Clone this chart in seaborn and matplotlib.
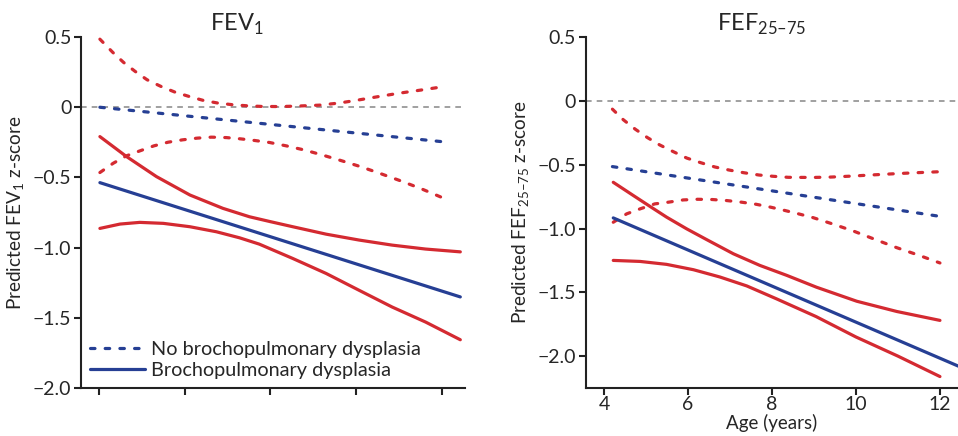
import matplotlib
matplotlib.use("Agg")
import matplotlib.pyplot as plt
from matplotlib.lines import Line2D
import seaborn as sns

# colours
RED = "#d42a31"
BLUE = "#263f94"

# ---- FEV1 panel ----
fev_no_mean_x = [4.02, 12.0]
fev_no_mean_y = [0.0, -0.245]
fev_no_hi_x = [4.02, 4.32, 4.57, 4.84, 5.12, 5.44, 5.77, 6.10, 6.43, 6.77, 7.12, 7.43, 7.78,
               8.2, 8.6, 9.14, 9.6, 10.02, 10.5, 11.0, 11.5, 12.0]
fev_no_hi_y = [0.485, 0.391, 0.32, 0.256, 0.196, 0.149, 0.108, 0.077, 0.049, 0.03, 0.018, 0.011, 0.006,
               0.005, 0.008, 0.015, 0.03, 0.05, 0.075, 0.10, 0.122, 0.145]
fev_no_lo_x = [4.02, 4.33, 4.64, 4.95, 5.28, 5.61, 5.95, 6.29, 6.62, 6.97, 7.30, 7.64, 7.98,
               8.37, 8.8, 9.21, 9.65, 10.07, 10.5, 11.0, 11.5, 11.98]
fev_no_lo_y = [-0.465, -0.399, -0.346, -0.311, -0.275, -0.249, -0.232, -0.22, -0.213, -0.216, -0.225, -0.237, -0.251,
               -0.275, -0.305, -0.34, -0.38, -0.42, -0.465, -0.52, -0.578, -0.64]

fev_bpd_mean_x = [4.02, 12.43]
fev_bpd_mean_y = [-0.537, -1.351]
fev_bpd_hi_x = [4.02, 4.64, 5.34, 6.12, 6.89, 7.51, 8.0, 8.52, 9.30, 10.07, 10.84, 11.62, 12.43]
fev_bpd_hi_y = [-0.209, -0.351, -0.494, -0.625, -0.72, -0.78, -0.815, -0.851, -0.904, -0.946, -0.982, -1.01, -1.03]
fev_bpd_lo_x = [4.02, 4.49, 4.95, 5.50, 6.12, 6.74, 7.28, 7.74, 8.52, 9.30, 10.07, 10.84, 11.62, 12.43]
fev_bpd_lo_y = [-0.863, -0.832, -0.82, -0.827, -0.851, -0.887, -0.93, -0.975, -1.077, -1.184, -1.304, -1.423, -1.53, -1.656]

# ---- FEF25-75 panel ----
fef_no_mean_x = [4.2, 12.0]
fef_no_mean_y = [-0.515, -0.905]
fef_no_hi_x = [4.20, 4.46, 4.74, 5.03, 5.33, 5.65, 5.97, 6.30, 6.64, 6.98, 7.33, 7.69, 8.03, 8.39,
               8.98, 9.4, 9.86, 10.4, 10.97, 11.5, 12.0]
fef_no_hi_y = [-0.065, -0.148, -0.221, -0.287, -0.346, -0.398, -0.448, -0.484, -0.518, -0.542, -0.563, -0.581, -0.591, -0.599,
               -0.60, -0.597, -0.59, -0.58, -0.57, -0.562, -0.555]
fef_no_lo_x = [4.22, 4.54, 4.86, 5.21, 5.53, 5.89, 6.23, 6.58, 6.92, 7.28, 7.62, 7.97, 8.31, 8.63,
               8.98, 9.45, 9.94, 10.45, 10.97, 11.5, 12.0]
fef_no_lo_y = [-0.951, -0.885, -0.846, -0.807, -0.794, -0.776, -0.771, -0.773, -0.781, -0.794, -0.81, -0.833, -0.859, -0.885,
               -0.915, -0.965, -1.02, -1.085, -1.15, -1.21, -1.27]

fef_bpd_mean_x = [4.22, 12.45]
fef_bpd_mean_y = [-0.917, -2.08]
fef_bpd_hi_x = [4.22, 4.70, 5.10, 5.49, 5.97, 6.45, 7.08, 7.71, 8.35, 9.06, 10.02, 10.97, 12.0]
fef_bpd_hi_y = [-0.638, -0.742, -0.828, -0.911, -1.003, -1.088, -1.198, -1.289, -1.367, -1.46, -1.57, -1.65, -1.72]
fef_bpd_lo_x = [4.22, 4.86, 5.49, 6.13, 6.76, 7.4, 8.1, 9.05, 10.0, 11.0, 12.0]
fef_bpd_lo_y = [-1.25, -1.258, -1.281, -1.323, -1.38, -1.45, -1.55, -1.69, -1.85, -2.0, -2.16]

age_ticks = [4, 6, 8, 10, 12]
z_ticks = [0.5, 0, -0.5, -1.0, -1.5, -2.0]
legend_labels = ["No brochopulmonary dysplasia", "Brochopulmonary dysplasia"]

sns.set_style("ticks")
plt.rcParams["font.family"] = ["Lato", "DejaVu Sans"]
plt.rcParams["mathtext.fontset"] = "custom"
plt.rcParams["mathtext.rm"] = "Lato"
plt.rcParams["axes.edgecolor"] = "#222222"
plt.rcParams["axes.linewidth"] = 1.5

fig = plt.figure(figsize=(9.58, 4.36), dpi=100)
ax1 = fig.add_axes([0.0846, 0.110, 0.4008, 0.805])
ax2 = fig.add_axes([0.6114, 0.110, 0.3886, 0.805])

dash_kw = dict(linestyle=(0, (1.4, 3.2)), dash_capstyle="round")


def draw(ax, curves):
    ax.axhline(0, color="#a0a0a0", lw=1.4, linestyle=(0, (2.9, 2.6)), zorder=1)
    for x, y, color, dashed in curves:
        kw = dash_kw if dashed else dict(solid_capstyle="round", solid_joinstyle="round")
        sns.lineplot(x=x, y=y, ax=ax, color=color, lw=2.3, errorbar=None, **kw)


def fmt(v):
    if v == 0:
        return "0"
    return f"{v:.1f}".replace("-", "\u2212")


draw(ax1, [
    (fev_no_hi_x, fev_no_hi_y, RED, True),
    (fev_no_lo_x, fev_no_lo_y, RED, True),
    (fev_no_mean_x, fev_no_mean_y, BLUE, True),
    (fev_bpd_hi_x, fev_bpd_hi_y, RED, False),
    (fev_bpd_lo_x, fev_bpd_lo_y, RED, False),
    (fev_bpd_mean_x, fev_bpd_mean_y, BLUE, False),
])
draw(ax2, [
    (fef_no_hi_x, fef_no_hi_y, RED, True),
    (fef_no_lo_x, fef_no_lo_y, RED, True),
    (fef_no_mean_x, fef_no_mean_y, BLUE, True),
    (fef_bpd_hi_x, fef_bpd_hi_y, RED, False),
    (fef_bpd_lo_x, fef_bpd_lo_y, RED, False),
    (fef_bpd_mean_x, fef_bpd_mean_y, BLUE, False),
])

ax1.set_xlim(3.58, 12.54)
ax1.set_ylim(-2.0, 0.5)
ax2.set_xlim(3.564, 12.43)
ax2.set_ylim(-2.25, 0.5)

for ax in (ax1, ax2):
    sns.despine(ax=ax)
    ax.set_xticks(age_ticks)
    ax.set_yticks(z_ticks)
    ax.set_yticklabels([fmt(v) for v in z_ticks])
    ax.tick_params(labelsize=14, length=5, width=1.5, color="#222222", pad=2)

ax1.tick_params(axis="x", labelbottom=False)
ax1.set_xlabel("")
ax2.tick_params(axis="x", pad=1)
ax2.set_xticklabels([str(t) for t in age_ticks])
ax2.set_xlabel("Age (years)", fontsize=13.5, labelpad=0.5)

ax1.set_ylabel("Predicted FEV$_\\mathregular{1}$ z-score", fontsize=13.7, labelpad=4)
ax2.set_ylabel("Predicted FEF$_\\mathregular{25\u201375}$ z-score", fontsize=13.7, labelpad=4)

ax1.set_title("FEV$_\\mathregular{1}$", fontsize=17, x=0.406, pad=4)
ax2.set_title("FEF$_\\mathregular{25\u201375}$", fontsize=17, x=0.474, pad=4)

# legend
handles = [
    Line2D([], [], color=BLUE, lw=2.3, **dash_kw),
    Line2D([], [], color=BLUE, lw=2.3, solid_capstyle="round"),
]
ax1.legend(handles, legend_labels,
           loc="lower left", bbox_to_anchor=(0.0, 0.0), frameon=False,
           fontsize=14.3, handlelength=2.75, handletextpad=0.3, labelspacing=0.2,
           borderpad=0.2, borderaxespad=0.25)

fig.savefig("out.png", dpi=100)
